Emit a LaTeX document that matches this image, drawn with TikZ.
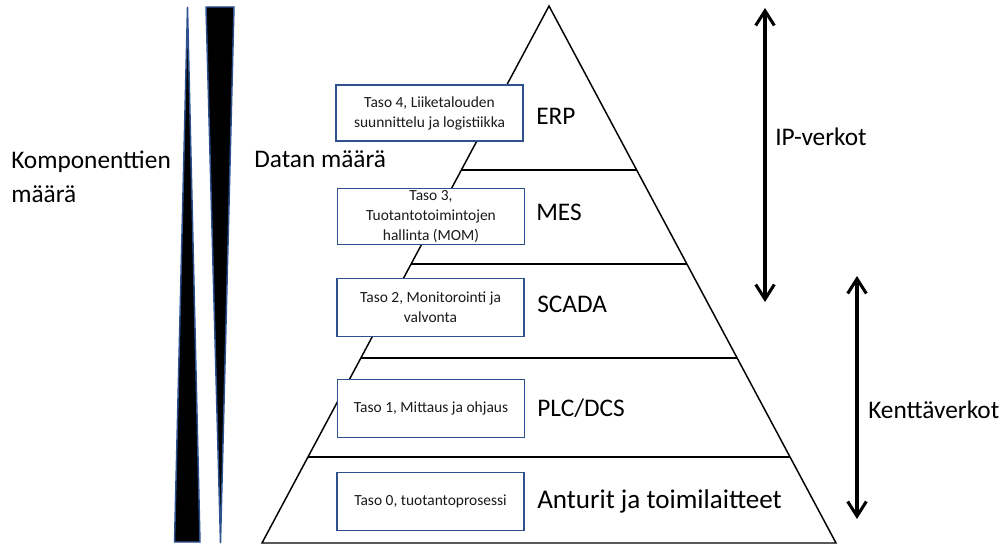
\documentclass[tikz,border=0pt]{standalone}
\usepackage{fontspec}
\setmainfont{Carlito}
\usetikzlibrary{arrows.meta,calc}
\definecolor{outline}{HTML}{2F528F}
\definecolor{boxtext}{HTML}{1A1A1A}
\begin{document}
\begin{tikzpicture}[x=0.75pt,y=-0.75pt,
  pyr/.style={draw=black,line width=1.1pt},
  wedge/.style={draw=outline,fill=black,line width=1.1pt,line join=miter},
  levelbox/.style={draw=outline,line width=1.1pt,fill=white,text=boxtext,
    font=\fontsize{11.6}{15}\selectfont,align=center,inner sep=0pt,
    minimum width=140.5pt,minimum height=43.5pt},
  biglabel/.style={anchor=base west,inner sep=0pt,font=\fontsize{19}{26}\selectfont},
  netarrow/.style={line width=2.3pt,
    {Straight Barb[length=11pt,width=14pt,line width=2.3pt]}-{Straight Barb[length=11pt,width=14pt,line width=2.3pt]}}
]
\useasboundingbox (0,0) rectangle (1005,545);

% quantity wedges
\draw[wedge] (187.5,7) -- (200,542) -- (174.5,542) -- cycle;
\draw[wedge] (206,7) -- (234,7) -- (220.5,543) -- cycle;

% pyramid outline and level dividers
\coordinate (apex) at (549,6);
\coordinate (bl) at (262,543);
\coordinate (br) at (836,543);
\draw[pyr,line join=miter] (bl) -- (apex) -- (br) -- cycle;
\foreach \t/\n in {0.3054/a,0.4804/b,0.6555/c,0.8399/d} {
  \coordinate (L\n) at ($(apex)!\t!(bl)$);
  \coordinate (R\n) at ($(apex)!\t!(br)$);
  \draw[pyr] (L\n) -- (R\n);
}

% level boxes
\node[levelbox,minimum height=42pt] (lvl4) at (429.5,113) {Taso 4, Liiketalouden\\suunnittelu ja logistiikka};
\node[levelbox,minimum height=42pt] (lvl3) at (431,216.5) {Taso 3,\\Tuotantotoimintojen\\hallinta (MOM)};
\node[levelbox] (lvl2) at (430.5,307.5) {Taso 2, Monitorointi ja\\valvonta};
\node[levelbox] (lvl1) at (431,408.5) {Taso 1, Mittaus ja ohjaus};
\node[levelbox] (lvl0) at (430.5,501.5) {Taso 0, tuotantoprosessi};

% system names
\node[biglabel] (erp) at (536,125) {ERP};
\node[biglabel] (mes) at (536,220) {MES};
\node[biglabel] (scada) at (537,312) {SCADA};
\node[biglabel] (plc) at (537,416) {PLC/DCS};
\node[biglabel,font=\fontsize{20.3}{26}\selectfont] (anturit) at (537,508) {Anturit ja toimilaitteet};

% side captions
\node[biglabel,align=left] (komp) at (11,203) {Komponenttien\\määrä};
\node[biglabel] (datan) at (254,168) {Datan määrä};
\node[biglabel] (ip) at (775,146) {IP-verkot};
\node[biglabel] (kentta) at (868,418) {Kenttäverkot};

% network ranges
\coordinate (iptop) at (765,8);
\coordinate (ipbot) at (765,302);
\coordinate (kttop) at (857,276);
\coordinate (ktbot) at (857,519);
\draw[netarrow] (iptop) -- (ipbot);
\draw[netarrow] (kttop) -- (ktbot);
\end{tikzpicture}
\end{document}
